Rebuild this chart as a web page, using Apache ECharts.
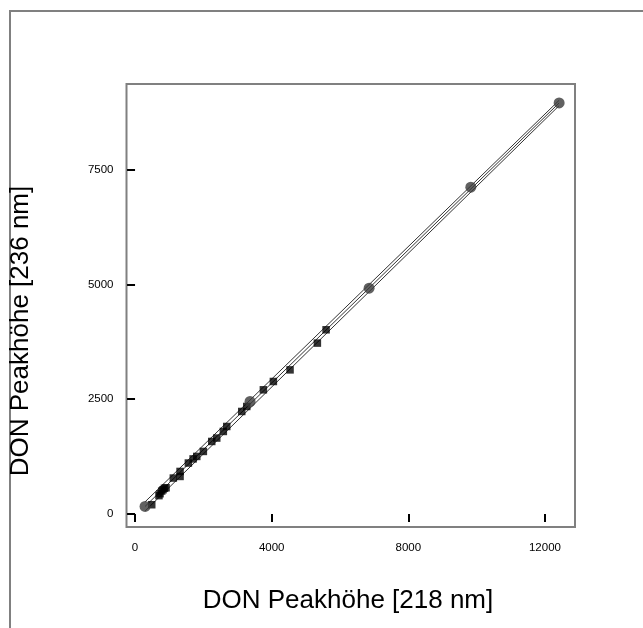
<!DOCTYPE html>
<html><head><meta charset="utf-8">
<script src="https://cdn.jsdelivr.net/npm/echarts@6/dist/echarts.min.js"></script>
<style>html,body{margin:0;padding:0;background:#fff}#c{width:643px;height:628px}</style>
</head><body><div id="c"></div>
<script>
const xTicks = [0, 4000, 8000, 12000];
const yTicks = [0, 2500, 5000, 7500];
const xTitle = 'DON Peakhöhe [218 nm]';
const yTitle = 'DON Peakhöhe [236 nm]';
const sampleX = [489, 700, 732, 780, 820, 860, 908, 1121, 1318, 1318, 1561, 1700, 1807, 2000, 2246, 2392, 2585, 2685, 3124, 3271, 3757, 4050, 4538, 5338, 5593];
const sampleY = [202, 400, 442, 500, 529, 560, 572, 783, 818, 927, 1110, 1200, 1254, 1363, 1580, 1654, 1798, 1906, 2233, 2342, 2705, 2886, 3139, 3722, 4012];
const standardX = [293, 3367, 6852, 9830, 12415];
const standardY = [165, 2450, 4919, 7117, 8952];
const fitX = [293, 12415];
const fitY = [165, 8952];
const upperY = [265, 9010];
const lowerY = [65, 8894];

const zip = (a, b) => a.map((v, i) => [v, b[i]]);
const font = 'Liberation Sans, Arial, sans-serif';
const chart = echarts.init(document.getElementById('c'), null, {renderer: 'canvas'});
const lineSeries = (ys) => ({
  type: 'line', data: zip(fitX, ys), symbol: 'none', silent: true,
  lineStyle: {color: '#333', width: 1}, z: 2, animation: false
});
chart.setOption({
  animation: false,
  backgroundColor: '#fff',
  grid: {left: 126.5, top: 84, right: 68, bottom: 101, show: true, borderColor: '#808080', borderWidth: 2, containLabel: false},
  xAxis: {
    type: 'value', min: -250, max: 12880,
    axisLine: {show: false}, splitLine: {show: false},
    axisTick: {show: true, length: 8, inside: false, lineStyle: {color: '#000', width: 2}, customValues: xTicks},
    axisLabel: {show: true, margin: 15, color: '#000', fontSize: 11.5, fontFamily: font, customValues: xTicks, formatter: v => String(v)}
  },
  yAxis: {
    type: 'value', min: -283, max: 9365,
    axisLine: {show: false}, splitLine: {show: false},
    axisTick: {show: true, length: 8, inside: false, lineStyle: {color: '#000', width: 2}, customValues: yTicks},
    axisLabel: {show: true, margin: 13, color: '#000', fontSize: 11.5, fontFamily: font, customValues: yTicks, formatter: v => String(v)}
  },
  graphic: [
    {type: 'rect', shape: {x: 10, y: 11, width: 800, height: 800}, style: {fill: 'none', stroke: '#808080', lineWidth: 2}, silent: true},
    {type: 'text', x: 348, y: 601, style: {text: xTitle, font: '26px ' + font, fill: '#000', textAlign: 'center', textVerticalAlign: 'middle'}},
    {type: 'text', x: 21, y: 331, rotation: Math.PI / 2, style: {text: yTitle, font: '26px ' + font, fill: '#000', textAlign: 'center', textVerticalAlign: 'middle'}}
  ],
  series: [
    lineSeries(fitY), lineSeries(upperY), lineSeries(lowerY),
    {type: 'scatter', data: zip(sampleX, sampleY), symbol: 'rect', symbolSize: 7.5, itemStyle: {color: '#000'}, z: 3},
    {type: 'scatter', data: zip(standardX, standardY), symbol: 'circle', symbolSize: 11, itemStyle: {color: '#3a3a3a'}, z: 4}
  ]
});
</script></body></html>
